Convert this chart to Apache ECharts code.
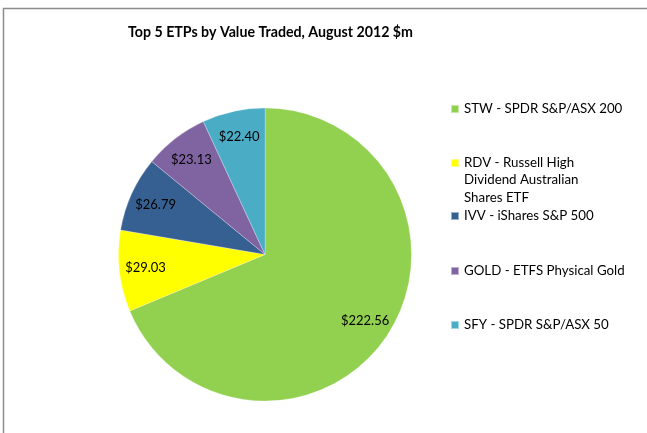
<!DOCTYPE html>
<html><head><meta charset="utf-8">
<script src="https://cdn.jsdelivr.net/npm/echarts@6/dist/echarts.min.js"></script>
<style>html,body{margin:0;padding:0;background:#fff}#c{width:647px;height:433px}</style>
</head><body><div id="c"></div>
<script>
const categories = ["STW - SPDR S&P/ASX 200", "RDV - Russell High Dividend Australian Shares ETF", "IVV - iShares S&P 500", "GOLD - ETFS Physical Gold", "SFY - SPDR S&P/ASX 50"];
const values = [222.56, 29.03, 26.79, 23.13, 22.40];
const colors = ["#92D050", "#FFFF00", "#376092", "#8064A2", "#4BACC6"];
const legendLabels = ["STW - SPDR S&P/ASX 200", "RDV - Russell High", "IVV - iShares S&P 500", "GOLD - ETFS Physical Gold", "SFY - SPDR S&P/ASX 50"];
const legendContinuation = "Dividend Australian\nShares ETF";
const titleText = "Top 5 ETPs by Value Traded, August 2012 $m";

const FONT = "Lato";
const data = categories.map((n, i) => ({name: n, value: values[i], itemStyle: {color: colors[i]}}));
const legendTops = [100, 154, 207, 262, 316];
const legends = categories.map((n, i) => ({
  data: [n], left: 450, top: legendTops[i], orient: 'vertical',
  itemWidth: 8, itemHeight: 8, icon: 'rect', selectedMode: false, padding: 0,
  formatter: () => legendLabels[i],
  textStyle: {fontFamily: FONT, fontSize: 13.3, color: '#000', lineHeight: 18}
}));

const chart = echarts.init(document.getElementById('c'), null, {renderer: 'canvas'});
chart.setOption({
  animation: false,
  backgroundColor: '#fff',
  title: {text: titleText, left: 123, top: 20,
    textStyle: {fontFamily: FONT, fontWeight: 'bold', fontSize: 14.2, color: '#000'}},
  legend: legends,
  graphic: [
    {type: 'rect', shape: {x: 3.5, y: 8.5, width: 700, height: 500},
     style: {fill: null, stroke: '#8c8c8c', lineWidth: 1.5}, silent: true, z: 100},
    {type: 'text', left: 464, top: 171, silent: true,
     style: {text: legendContinuation, fontFamily: FONT, fontSize: 13.3, lineHeight: 18, fill: '#000'}}
  ],
  series: [
    {type: 'pie', center: [265, 254.5], radius: [0, 146.5], startAngle: 90, clockwise: true,
     data: data, label: {show: false}, labelLine: {show: false},
     itemStyle: {borderColor: 'rgba(255,255,255,0.5)', borderWidth: 0.5}},
    {type: 'pie', center: [265, 254.5], radius: [88, 146.5], startAngle: 90, clockwise: true,
     silent: true, legendHoverLink: false,
     data: categories.map((n, i) => ({name: n, value: values[i], itemStyle: {color: 'rgba(0,0,0,0)'}})),
     label: {show: true, position: 'inside', fontFamily: FONT, fontSize: 13, color: '#000',
       formatter: p => '$' + p.value.toFixed(2)},
     labelLine: {show: false}}
  ]
});
</script></body></html>
